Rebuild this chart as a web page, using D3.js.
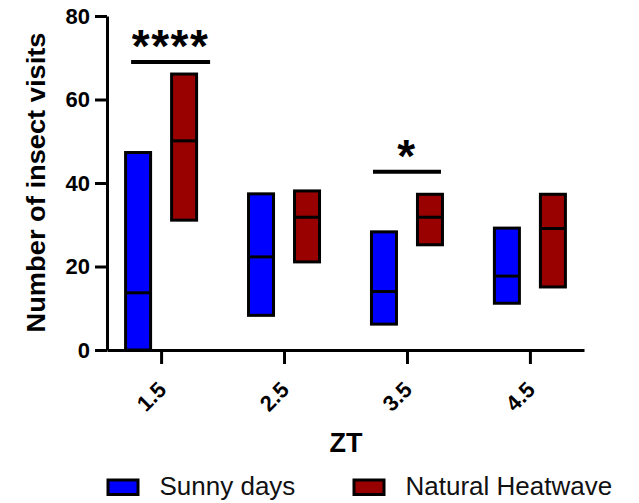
<!DOCTYPE html>
<html>
<head>
<meta charset="utf-8">
<script src="https://cdn.jsdelivr.net/npm/d3@7"></script>
<style>
  body { margin: 0; background: #fff; }
  svg { display: block; font-family: "Liberation Sans", Arial, sans-serif; }
</style>
</head>
<body>
<div id="chart"></div>
<script>
// data: floating bars min..max with line at median
var groups = ["1.5", "2.5", "3.5", "4.5"];
var series = ["Sunny days", "Natural Heatwave"];
var seriesColors = ["#0000ff", "#990000"];
var sunnyMin = [0, 8.3, 6.2, 11.2];
var sunnyMedian = [13.7, 22.3, 14.0, 17.7];
var sunnyMax = [47.3, 37.4, 28.3, 29.2];
var heatMin = [31.1, 21.1, 25.2, 15.1];
var heatMedian = [50.1, 31.8, 31.8, 29.1];
var heatMax = [66.1, 38.1, 37.3, 37.3];
var yTicks = [0, 20, 40, 60, 80];
var sigGroups = ["1.5", "3.5"];
var sigValues = [69.0, 42.7];
var sigLabels = ["****", "*"];

var width = 639, height = 503;

var rows = [];
groups.forEach(function (g, i) {
    rows.push({group: g, series: series[0], min: sunnyMin[i], median: sunnyMedian[i], max: sunnyMax[i]});
    rows.push({group: g, series: series[1], min: heatMin[i], median: heatMedian[i], max: heatMax[i]});
});

var x = d3.scalePoint().domain(groups).range([107, 584]).padding(0.44);
var inner = d3.scaleBand().domain(series).range([-46, 46]);
var y = d3.scaleLinear().domain([0, 80]).range([350, 16]);
var color = d3.scaleOrdinal().domain(series).range(seriesColors);
var boxWidth = 25;

var svg = d3.select("#chart").append("svg")
    .attr("width", width)
    .attr("height", height);

// bars
var box = svg.selectAll(".box")
    .data(rows)
    .enter().append("g")
    .attr("class", "box")
    .attr("transform", function (d) {
        return "translate(" + (x(d.group) + inner(d.series) + inner.bandwidth() / 2) + ",0)";
    });

box.append("rect")
    .attr("x", -boxWidth / 2)
    .attr("width", boxWidth)
    .attr("y", function (d) { return y(d.max); })
    .attr("height", function (d) { return y(d.min) - y(d.max); })
    .attr("fill", function (d) { return color(d.series); })
    .attr("stroke", "#000")
    .attr("stroke-width", 3);

box.append("line")
    .attr("x1", -boxWidth / 2)
    .attr("x2", boxWidth / 2)
    .attr("y1", function (d) { return y(d.median); })
    .attr("y2", function (d) { return y(d.median); })
    .attr("stroke", "#000")
    .attr("stroke-width", 3);

// axes
var yAxis = svg.append("g")
    .attr("transform", "translate(107,0)")
    .call(d3.axisLeft(y).tickValues(yTicks).tickSize(12).tickSizeOuter(0).tickPadding(5));

var xAxis = svg.append("g")
    .attr("transform", "translate(0,350)")
    .call(d3.axisBottom(x).tickSize(14).tickSizeOuter(0));

svg.selectAll(".domain, .tick line")
    .attr("stroke", "#000")
    .attr("stroke-width", 3);

yAxis.selectAll("text")
    .attr("font-size", 22)
    .attr("font-weight", "bold")
    .attr("fill", "#000");

xAxis.selectAll("text")
    .attr("font-size", 22)
    .attr("font-weight", "bold")
    .attr("fill", "#000")
    .attr("text-anchor", "end")
    .attr("dy", 0)
    .attr("y", 0)
    .attr("transform", "translate(6,41) rotate(-45)");

// axis titles
svg.append("text")
    .attr("transform", "translate(44.5,182.5) rotate(-90)")
    .attr("text-anchor", "middle")
    .attr("font-size", 25)
    .attr("font-weight", "bold")
    .attr("textLength", 300)
    .attr("lengthAdjust", "spacingAndGlyphs")
    .text("Number of insect visits");

svg.append("text")
    .attr("x", 346)
    .attr("y", 451.5)
    .attr("text-anchor", "middle")
    .attr("font-size", 27)
    .attr("font-weight", "bold")
    .text("ZT");

// significance bars
var sigSpan = {"1.5": [-30, 49], "3.5": [-34, 34]};
var sig = svg.selectAll(".sig")
    .data(sigGroups.map(function (g, i) { return {group: g, value: sigValues[i], label: sigLabels[i]}; }))
    .enter().append("g")
    .attr("class", "sig");

sig.append("line")
    .attr("x1", function (d) { return x(d.group) + sigSpan[d.group][0]; })
    .attr("x2", function (d) { return x(d.group) + sigSpan[d.group][1]; })
    .attr("y1", function (d) { return y(d.value); })
    .attr("y2", function (d) { return y(d.value); })
    .attr("stroke", "#000")
    .attr("stroke-width", 4);

sig.append("text")
    .attr("x", function (d) { return x(d.group) + (sigSpan[d.group][0] + sigSpan[d.group][1]) / 2; })
    .attr("y", function (d) { return y(d.value); })
    .attr("text-anchor", "middle")
    .attr("font-size", 46)
    .attr("font-weight", "bold")
    .attr("letter-spacing", 1.5)
    .text(function (d) { return d.label; });

// legend
var legend = svg.selectAll(".legend")
    .data(series)
    .enter().append("g")
    .attr("class", "legend")
    .attr("transform", function (d, i) { return "translate(" + [108, 354][i] + ",0)"; });

legend.append("rect")
    .attr("y", 480)
    .attr("width", 30)
    .attr("height", 14.5)
    .attr("fill", function (d) { return color(d); })
    .attr("stroke", "#000")
    .attr("stroke-width", 3);

legend.append("text")
    .attr("x", 51.5)
    .attr("y", 494.5)
    .attr("font-size", 26)
    .attr("fill", "#111")
    .text(function (d) { return d; });
</script>
</body>
</html>
